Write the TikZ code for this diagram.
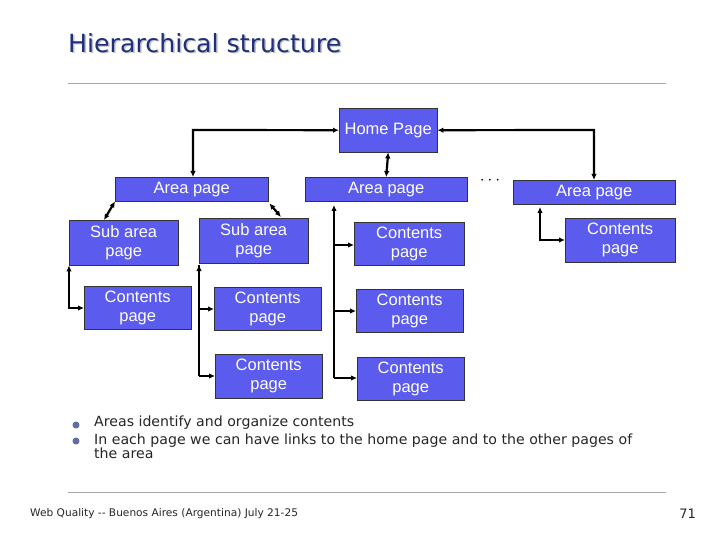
\documentclass[tikz,border=0pt]{standalone}
\usepackage{fontspec}
\setmainfont{Liberation Sans}
\newfontfamily\dv{DejaVu Sans}
\usetikzlibrary{arrows.meta}
\definecolor{boxc}{HTML}{5B5BEE}
\definecolor{titc}{HTML}{1F2F7F}
\begin{document}
\begin{tikzpicture}[x=1pt,y=-1pt,
  bx/.style={draw=black!80,fill=boxc,text=white,font=\fontsize{16.5}{19}\selectfont,align=center,inner sep=0pt,anchor=north west},
  ar/.style={line width=2.2pt,{Latex[length=6pt,width=5.5pt]}-{Latex[length=6pt,width=5.5pt]}},
  al/.style={line width=2.2pt,-{Latex[length=6pt,width=5.5pt]}},
  ln/.style={line width=2.2pt}]
\useasboundingbox (0,0) rectangle (720,540);
\fill[white] (0,0) rectangle (720,540);
\node[anchor=west,inner sep=0,text=gray!50,font=\dv\fontsize{25}{28}\selectfont,xscale=1.01] at (69.5,44.5) {Hierarchical structure};
\node (title)[anchor=west,inner sep=0,text=titc,font=\dv\fontsize{25}{28}\selectfont,xscale=1.01] at (68,43) {Hierarchical structure};
\draw[gray!70,line width=0.8pt] (68,83) -- (666,83);
\draw[gray!70,line width=0.8pt] (68,492) -- (666,492);
\newcommand\bb[6]{\node[bx,minimum width=#4-#2,minimum height=#5-#3] (#1) at (#2,#3) {#6};}
\bb{home}{339}{108}{437}{152}{Home Page}
\bb{a1}{115}{177}{268}{201}{Area page}
\bb{a2}{305}{177}{467}{201}{Area page}
\bb{a3}{513}{180}{675}{204}{Area page}
\bb{cr}{565}{218}{675}{262}{Contents\\page}
\bb{s1}{69}{220}{178}{265}{Sub area\\page}
\bb{s2}{199}{218}{308}{263}{Sub area\\page}
\bb{c1}{84}{286}{191}{329}{Contents\\page}
\bb{c2a}{214}{287}{321}{330}{Contents\\page}
\bb{c2b}{215}{354}{322}{398}{Contents\\page}
\bb{c3a}{354}{222}{464}{265}{Contents\\page}
\bb{c3b}{356}{289}{463}{332}{Contents\\page}
\bb{c3c}{357}{357}{464}{400}{Contents\\page}
\node (dots) at (490,181) {\fontsize{16}{16}\selectfont$\cdots$};
\draw[ar] (a1.north -| 193,0) -- (193,130) -- (home.west);
\draw[ar] (home.east) -- (594,130) -- (a3.north -| 594,0);
\draw[ar] (home.south) -- (a2.north);
\draw[ar] (a1.south west) -- (104,220);
\draw[ar] (a1.south east) ++(1,2) -- (281,217);
\coordinate (p1) at (69,308);
\draw[ar] (s1.south west) -- (p1) -- (c1.west |- p1);
\draw[al] (s2.south west) ++(0,2) -- (199,265);
\draw[ln] (199,265) -- (199,376);
\draw[al] (199,309) -- (c2a.west |- 0,309);
\draw[al] (199,376) -- (c2b.west |- 0,376);
\draw[al] (334,215) -- (334,205);
\draw[ln] (334,215) -- (334,378);
\draw[al] (334,245) -- (c3a.west |- 0,245);
\draw[al] (334,311) -- (c3b.west |- 0,311);
\draw[al] (334,378) -- (c3c.west |- 0,378);
\draw[ar] (540,207) -- (540,240) -- (cr.west |- 0,240);
\fill[titc!70] (76,425) circle (3.5);
\fill[titc!70] (76,441) circle (3.5);
\begin{scope}[font=\dv\fontsize{14}{15}\selectfont,text=black!85]
\node (b1)[anchor=west,inner sep=0,xscale=1.01] at (94,423) {Areas identify and organize contents};
\node (b2)[anchor=north west,align=left,inner sep=0,xscale=1.01] at (94,434) {In each page we can have links to the home page and to the other pages of\\[-1pt]the area};
\node (ft)[anchor=west,inner sep=0,font=\dv\fontsize{10.5}{12}\selectfont,xscale=1.01] at (30,514) {Web Quality -- Buenos Aires (Argentina) July 21-25};
\node (pn)[anchor=east,inner sep=0,font=\dv\fontsize{13}{14}\selectfont] at (696,514) {71};
\end{scope}
\end{tikzpicture}
\end{document}
